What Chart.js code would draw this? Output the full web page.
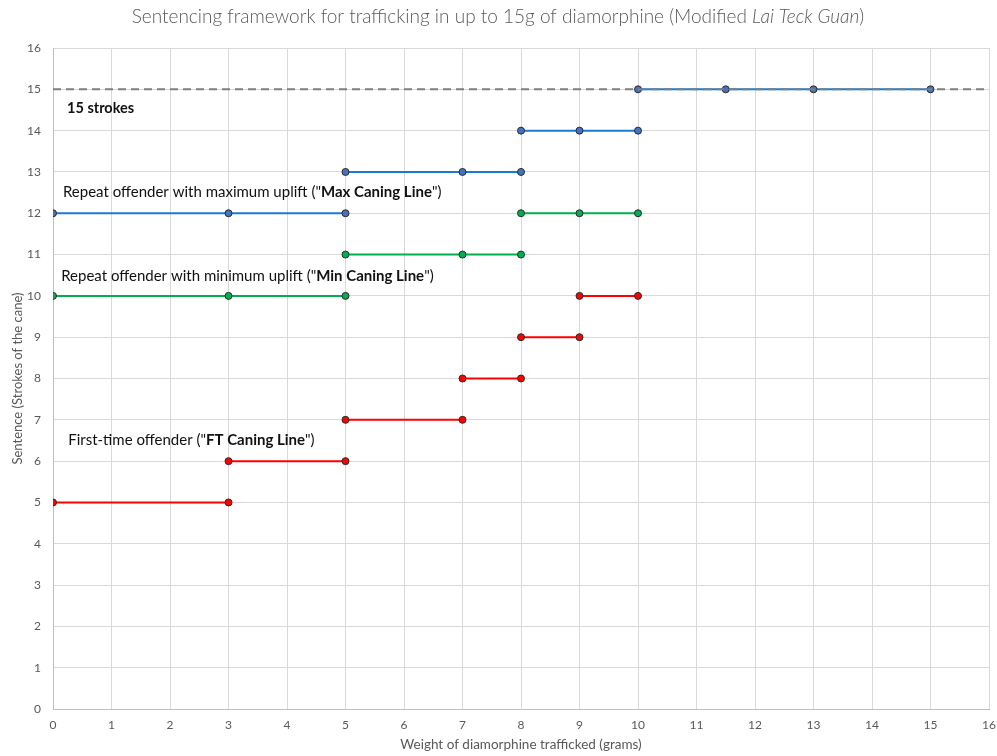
<!DOCTYPE html>
<html>
<head>
<meta charset="utf-8">
<script src="https://cdn.jsdelivr.net/npm/chart.js@4/dist/chart.umd.min.js"></script>
<style>
  html, body { margin: 0; padding: 0; background: #fff; }
  #wrap { width: 997px; height: 756px; position: relative; }
</style>
</head>
<body>
<div id="wrap"><canvas id="caningChart"></canvas></div>
<script>
// Sentencing framework data (weight in grams -> strokes of the cane)

// First-time offender ("FT Caning Line"): one segment per band
const ftX = [[0, 3], [3, 5], [5, 7], [7, 8], [8, 9], [9, 10]];
const ftY = [5, 6, 7, 8, 9, 10];

// Repeat offender, minimum uplift ("Min Caning Line")
const minX = [[0, 3, 5], [5, 7, 8], [8, 9, 10]];
const minY = [10, 11, 12];

// Repeat offender, maximum uplift ("Max Caning Line")
const maxX = [[0, 3, 5], [5, 7, 8], [8, 9, 10], [10, 11.5, 13, 15]];
const maxY = [12, 13, 14, 15];

// 15 strokes cap
const capX = [0, 16];
const capY = 15;

// axis ticks
const xTicks = [0, 1, 2, 3, 4, 5, 6, 7, 8, 9, 10, 11, 12, 13, 14, 15, 16];
const yTicks = [0, 1, 2, 3, 4, 5, 6, 7, 8, 9, 10, 11, 12, 13, 14, 15, 16];

const FONT = "Lato, 'Open Sans', sans-serif";
const GREY = '#595959';

// Turn segment lists into one point list, with a gap between segments
function buildSteps(xs, ys) {
    const pts = [];
    xs.forEach(function(seg, i) {
        if (i > 0) pts.push({ x: seg[0], y: null });
        seg.forEach(function(x) { pts.push({ x: x, y: ys[i] }); });
    });
    return pts;
}

// draw text made of plain/bold/italic runs
function drawRuns(ctx, runs, x, y, size, align) {
    let total = 0;
    runs.forEach(function(r) {
        ctx.font = (r[1] || '') + ' ' + size + 'px ' + FONT;
        total += ctx.measureText(r[0]).width;
    });
    let cx = align === 'center' ? x - total / 2 : x;
    runs.forEach(function(r) {
        ctx.font = (r[1] || '') + ' ' + size + 'px ' + FONT;
        ctx.fillText(r[0], cx, y);
        cx += ctx.measureText(r[0]).width;
    });
}

const labelPlugin = {
    id: 'labels',
    afterDraw: function(chart) {
        const ctx = chart.ctx;
        const xs = chart.scales.x;
        const ys = chart.scales.y;
        ctx.save();
        ctx.textBaseline = 'middle';
        ctx.textAlign = 'left';

        // title
        ctx.fillStyle = GREY;
        drawRuns(ctx, [
            ['Sentencing framework for trafficking in up to 15g of diamorphine (Modified ', '300'],
            ['Lai Teck Guan', 'italic 300'],
            [')', '300']
        ], 498, 17, 19, 'center');

        // annotations inside the plot
        ctx.fillStyle = '#111';
        drawRuns(ctx, [['15 strokes', 'bold']], xs.getPixelForValue(0.24), ys.getPixelForValue(14.55), 14.5);
        drawRuns(ctx, [
            ['Repeat offender with maximum uplift ("', ''],
            ['Max Caning Line', 'bold'],
            ['")', '']
        ], xs.getPixelForValue(0.17), ys.getPixelForValue(12.52), 15);
        drawRuns(ctx, [
            ['Repeat offender with minimum uplift ("', ''],
            ['Min Caning Line', 'bold'],
            ['")', '']
        ], xs.getPixelForValue(0.14), ys.getPixelForValue(10.48), 15);
        drawRuns(ctx, [
            ['First-time offender ("', ''],
            ['FT Caning Line', 'bold'],
            ['")', '']
        ], xs.getPixelForValue(0.26), ys.getPixelForValue(6.5), 15);
        ctx.restore();
    }
};

function stepDataset(label, pts, lineColor, pointColor) {
    return {
        label: label,
        data: pts,
        showLine: true,
        spanGaps: false,
        borderColor: lineColor,
        borderWidth: 2,
        pointRadius: 3.5,
        pointBackgroundColor: pointColor,
        pointBorderColor: '#2a2a2a',
        pointBorderWidth: 1,
        tension: 0
    };
}

const ctx = document.getElementById('caningChart');

new Chart(ctx, {
    type: 'scatter',
    data: {
        datasets: [
            {
                label: '15 strokes',
                data: capX.map(function(x) { return { x: x, y: capY }; }),
                showLine: true,
                borderColor: '#7f7f7f',
                borderWidth: 2,
                borderDash: [8, 5],
                pointRadius: 0
            },
            stepDataset('Max Caning Line', buildSteps(maxX, maxY), '#1a7bd4', '#4472c4'),
            stepDataset('Min Caning Line', buildSteps(minX, minY), '#00b050', '#00b050'),
            stepDataset('FT Caning Line', buildSteps(ftX, ftY), '#ff0000', '#ff0000')
        ]
    },
    options: {
        responsive: true,
        maintainAspectRatio: false,
        animation: false,
        layout: {
            padding: { top: 48, right: 0, left: 0, bottom: 0 }
        },
        plugins: {
            legend: { display: false },
            title: { display: false },
            tooltip: { enabled: false }
        },
        scales: {
            x: {
                type: 'linear',
                min: 0,
                max: 16,
                afterFit: function(scale) {
                    scale.height = 47;
                    scale.paddingRight = 8;
                },
                afterBuildTicks: function(scale) {
                    scale.ticks = xTicks.map(function(v) { return { value: v }; });
                },
                ticks: {
                    color: GREY,
                    padding: 9,
                    maxRotation: 0,
                    font: { family: FONT, size: 12 }
                },
                grid: {
                    color: '#d9d9d9',
                    drawTicks: false
                },
                border: { color: '#bfbfbf' },
                title: {
                    display: true,
                    text: 'Weight of diamorphine trafficked (grams)',
                    color: GREY,
                    padding: { top: 0, bottom: 3 },
                    font: { family: FONT, size: 13.5 }
                }
            },
            y: {
                type: 'linear',
                min: 0,
                max: 16,
                afterFit: function(scale) { scale.width = 53; },
                afterBuildTicks: function(scale) {
                    scale.ticks = yTicks.map(function(v) { return { value: v }; });
                },
                ticks: {
                    color: GREY,
                    padding: 12,
                    font: { family: FONT, size: 12 }
                },
                grid: {
                    color: '#d9d9d9',
                    drawTicks: false
                },
                border: { color: '#bfbfbf' },
                title: {
                    display: true,
                    text: 'Sentence (Strokes of the cane)',
                    color: GREY,
                    padding: { top: 10, bottom: 0 },
                    font: { family: FONT, size: 13 }
                }
            }
        }
    },
    plugins: [labelPlugin]
});
</script>
</body>
</html>
